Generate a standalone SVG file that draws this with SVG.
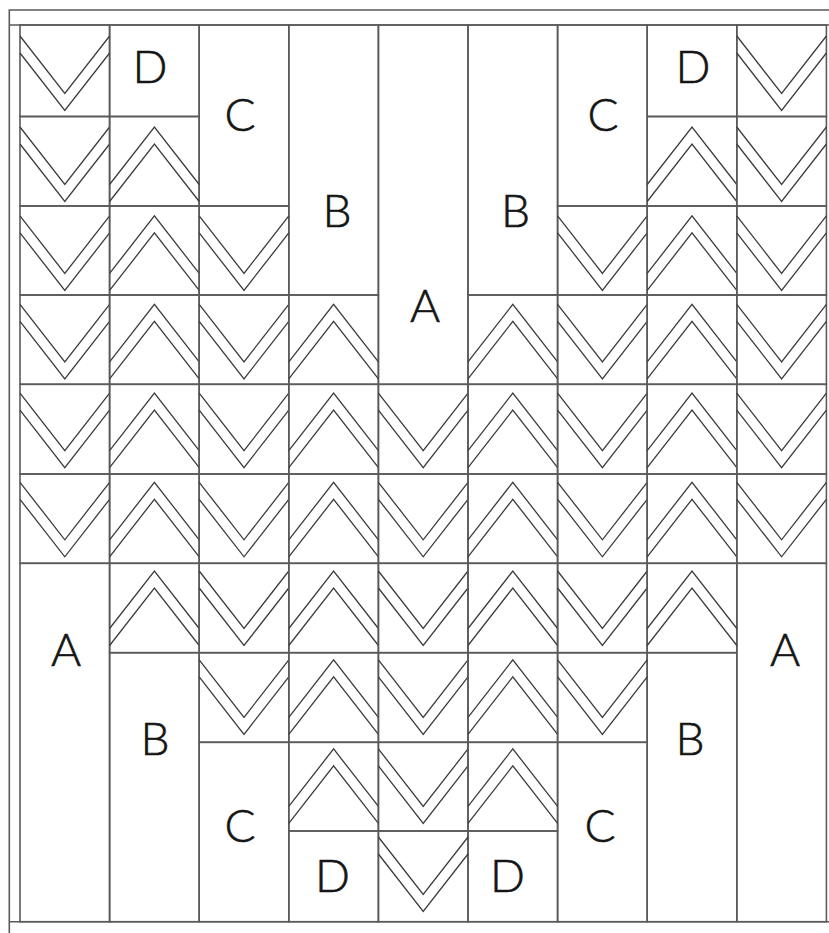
<svg xmlns="http://www.w3.org/2000/svg" xmlns:xlink="http://www.w3.org/1999/xlink" width="829" height="933" viewBox="0 0 829 933">
<style>
.g{fill:none;stroke:#5a5a5a;stroke-width:1.6}
.ch{fill:none;stroke:#3c3c3c;stroke-width:1.3}
.t{font-family:Lato,"Liberation Sans",sans-serif;font-weight:300;font-size:46px;fill:#151515;stroke:#151515;stroke-width:0.6;text-anchor:middle}
</style>
<defs>
<path id="v" class="ch" d="M0,0 L44.8,57.5 L89.6,0 M0,17 L44.8,74.5 L89.6,17"/>
<path id="n" class="ch" d="M0,57.5 L44.8,0 L89.6,57.5 M0,74.5 L44.8,17 L89.6,74.5"/>
</defs>
<rect width="829" height="933" fill="#fff"/>
<g id="frame" class="g">
<path d="M9.3,933 V10 H829 M9.3,25 H829 M9.3,921.7 H829"/>
</g>
<g id="regions">
<g id="D1"><rect class="g" x="109.6" y="25" width="89.6" height="91.5"/><text class="t" x="150" y="83">D</text></g>
<g id="C1"><rect class="g" x="199.2" y="25" width="89.6" height="181"/><text class="t" x="240" y="130.5">C</text></g>
<g id="B1"><rect class="g" x="288.8" y="25" width="89.6" height="270"/><text class="t" x="337" y="226.5">B</text></g>
<g id="A1"><rect class="g" x="378.4" y="25" width="89.6" height="359.3"/><text class="t" x="425" y="321.5">A</text></g>
<g id="B2"><rect class="g" x="468" y="25" width="89.6" height="270"/><text class="t" x="515.5" y="226.5">B</text></g>
<g id="C2"><rect class="g" x="557.6" y="25" width="89.6" height="181"/><text class="t" x="603" y="130.5">C</text></g>
<g id="D2"><rect class="g" x="647.2" y="25" width="89.6" height="91.5"/><text class="t" x="693" y="83">D</text></g>
<g id="A2"><rect class="g" x="20" y="563.3" width="89.6" height="358.4"/><text class="t" x="66" y="666">A</text></g>
<g id="B3"><rect class="g" x="109.6" y="652.7" width="89.6" height="269"/><text class="t" x="155" y="755">B</text></g>
<g id="C3"><rect class="g" x="199.2" y="742.3" width="89.6" height="179.4"/><text class="t" x="240" y="842">C</text></g>
<g id="D3"><rect class="g" x="288.8" y="831" width="89.6" height="90.7"/><text class="t" x="332.5" y="891.5">D</text></g>
<g id="D4"><rect class="g" x="468" y="831" width="89.6" height="90.7"/><text class="t" x="507.5" y="891.5">D</text></g>
<g id="C4"><rect class="g" x="557.6" y="742.3" width="89.6" height="179.4"/><text class="t" x="600" y="842">C</text></g>
<g id="B4"><rect class="g" x="647.2" y="652.7" width="89.6" height="269"/><text class="t" x="690" y="755">B</text></g>
<g id="A3"><rect class="g" x="736.8" y="563.3" width="89.6" height="358.4"/><text class="t" x="785" y="666">A</text></g>
</g>
<g id="chevrons">
<g id="r0c0"><rect class="g" x="20" y="25" width="89.6" height="91.5"/><use href="#v" x="20" y="36"/></g>
<g id="r0c8"><rect class="g" x="736.8" y="25" width="89.6" height="91.5"/><use href="#v" x="736.8" y="36"/></g>

<g id="r1c0"><rect class="g" x="20" y="116.5" width="89.6" height="89.5"/><use href="#v" x="20" y="127"/></g>
<g id="r1c1"><rect class="g" x="109.6" y="116.5" width="89.6" height="89.5"/><use href="#n" x="109.6" y="127"/></g>
<g id="r1c7"><rect class="g" x="647.2" y="116.5" width="89.6" height="89.5"/><use href="#n" x="647.2" y="127"/></g>
<g id="r1c8"><rect class="g" x="736.8" y="116.5" width="89.6" height="89.5"/><use href="#v" x="736.8" y="127"/></g>

<g id="r2c0"><rect class="g" x="20" y="206" width="89.6" height="89"/><use href="#v" x="20" y="215.9"/></g>
<g id="r2c1"><rect class="g" x="109.6" y="206" width="89.6" height="89"/><use href="#n" x="109.6" y="215.9"/></g>
<g id="r2c2"><rect class="g" x="199.2" y="206" width="89.6" height="89"/><use href="#v" x="199.2" y="215.9"/></g>
<g id="r2c6"><rect class="g" x="557.6" y="206" width="89.6" height="89"/><use href="#v" x="557.6" y="215.9"/></g>
<g id="r2c7"><rect class="g" x="647.2" y="206" width="89.6" height="89"/><use href="#n" x="647.2" y="215.9"/></g>
<g id="r2c8"><rect class="g" x="736.8" y="206" width="89.6" height="89"/><use href="#v" x="736.8" y="215.9"/></g>

<g id="r3c0"><rect class="g" x="20" y="295" width="89.6" height="89.3"/><use href="#v" x="20" y="304.4"/></g>
<g id="r3c1"><rect class="g" x="109.6" y="295" width="89.6" height="89.3"/><use href="#n" x="109.6" y="304.4"/></g>
<g id="r3c2"><rect class="g" x="199.2" y="295" width="89.6" height="89.3"/><use href="#v" x="199.2" y="304.4"/></g>
<g id="r3c3"><rect class="g" x="288.8" y="295" width="89.6" height="89.3"/><use href="#n" x="288.8" y="304.4"/></g>
<g id="r3c5"><rect class="g" x="468" y="295" width="89.6" height="89.3"/><use href="#n" x="468" y="304.4"/></g>
<g id="r3c6"><rect class="g" x="557.6" y="295" width="89.6" height="89.3"/><use href="#v" x="557.6" y="304.4"/></g>
<g id="r3c7"><rect class="g" x="647.2" y="295" width="89.6" height="89.3"/><use href="#n" x="647.2" y="304.4"/></g>
<g id="r3c8"><rect class="g" x="736.8" y="295" width="89.6" height="89.3"/><use href="#v" x="736.8" y="304.4"/></g>

<g id="r4c0"><rect class="g" x="20" y="384.3" width="89.6" height="89.7"/><use href="#v" x="20" y="393.1"/></g>
<g id="r4c1"><rect class="g" x="109.6" y="384.3" width="89.6" height="89.7"/><use href="#n" x="109.6" y="393.1"/></g>
<g id="r4c2"><rect class="g" x="199.2" y="384.3" width="89.6" height="89.7"/><use href="#v" x="199.2" y="393.1"/></g>
<g id="r4c3"><rect class="g" x="288.8" y="384.3" width="89.6" height="89.7"/><use href="#n" x="288.8" y="393.1"/></g>
<g id="r4c4"><rect class="g" x="378.4" y="384.3" width="89.6" height="89.7"/><use href="#v" x="378.4" y="393.1"/></g>
<g id="r4c5"><rect class="g" x="468" y="384.3" width="89.6" height="89.7"/><use href="#n" x="468" y="393.1"/></g>
<g id="r4c6"><rect class="g" x="557.6" y="384.3" width="89.6" height="89.7"/><use href="#v" x="557.6" y="393.1"/></g>
<g id="r4c7"><rect class="g" x="647.2" y="384.3" width="89.6" height="89.7"/><use href="#n" x="647.2" y="393.1"/></g>
<g id="r4c8"><rect class="g" x="736.8" y="384.3" width="89.6" height="89.7"/><use href="#v" x="736.8" y="393.1"/></g>

<g id="r5c0"><rect class="g" x="20" y="474" width="89.6" height="89.3"/><use href="#v" x="20" y="482.3"/></g>
<g id="r5c1"><rect class="g" x="109.6" y="474" width="89.6" height="89.3"/><use href="#n" x="109.6" y="482.3"/></g>
<g id="r5c2"><rect class="g" x="199.2" y="474" width="89.6" height="89.3"/><use href="#v" x="199.2" y="482.3"/></g>
<g id="r5c3"><rect class="g" x="288.8" y="474" width="89.6" height="89.3"/><use href="#n" x="288.8" y="482.3"/></g>
<g id="r5c4"><rect class="g" x="378.4" y="474" width="89.6" height="89.3"/><use href="#v" x="378.4" y="482.3"/></g>
<g id="r5c5"><rect class="g" x="468" y="474" width="89.6" height="89.3"/><use href="#n" x="468" y="482.3"/></g>
<g id="r5c6"><rect class="g" x="557.6" y="474" width="89.6" height="89.3"/><use href="#v" x="557.6" y="482.3"/></g>
<g id="r5c7"><rect class="g" x="647.2" y="474" width="89.6" height="89.3"/><use href="#n" x="647.2" y="482.3"/></g>
<g id="r5c8"><rect class="g" x="736.8" y="474" width="89.6" height="89.3"/><use href="#v" x="736.8" y="482.3"/></g>

<g id="r6c1"><rect class="g" x="109.6" y="563.3" width="89.6" height="89.4"/><use href="#n" x="109.6" y="571"/></g>
<g id="r6c2"><rect class="g" x="199.2" y="563.3" width="89.6" height="89.4"/><use href="#v" x="199.2" y="571"/></g>
<g id="r6c3"><rect class="g" x="288.8" y="563.3" width="89.6" height="89.4"/><use href="#n" x="288.8" y="571"/></g>
<g id="r6c4"><rect class="g" x="378.4" y="563.3" width="89.6" height="89.4"/><use href="#v" x="378.4" y="571"/></g>
<g id="r6c5"><rect class="g" x="468" y="563.3" width="89.6" height="89.4"/><use href="#n" x="468" y="571"/></g>
<g id="r6c6"><rect class="g" x="557.6" y="563.3" width="89.6" height="89.4"/><use href="#v" x="557.6" y="571"/></g>
<g id="r6c7"><rect class="g" x="647.2" y="563.3" width="89.6" height="89.4"/><use href="#n" x="647.2" y="571"/></g>

<g id="r7c2"><rect class="g" x="199.2" y="652.7" width="89.6" height="89.6"/><use href="#v" x="199.2" y="659.9"/></g>
<g id="r7c3"><rect class="g" x="288.8" y="652.7" width="89.6" height="89.6"/><use href="#n" x="288.8" y="659.9"/></g>
<g id="r7c4"><rect class="g" x="378.4" y="652.7" width="89.6" height="89.6"/><use href="#v" x="378.4" y="659.9"/></g>
<g id="r7c5"><rect class="g" x="468" y="652.7" width="89.6" height="89.6"/><use href="#n" x="468" y="659.9"/></g>
<g id="r7c6"><rect class="g" x="557.6" y="652.7" width="89.6" height="89.6"/><use href="#v" x="557.6" y="659.9"/></g>

<g id="r8c3"><rect class="g" x="288.8" y="742.3" width="89.6" height="88.7"/><use href="#n" x="288.8" y="748.9"/></g>
<g id="r8c4"><rect class="g" x="378.4" y="742.3" width="89.6" height="88.7"/><use href="#v" x="378.4" y="748.9"/></g>
<g id="r8c5"><rect class="g" x="468" y="742.3" width="89.6" height="88.7"/><use href="#n" x="468" y="748.9"/></g>

<g id="r9c4"><rect class="g" x="378.4" y="831" width="89.6" height="90.7"/><use href="#v" x="378.4" y="837"/></g>
</g>
</svg>
